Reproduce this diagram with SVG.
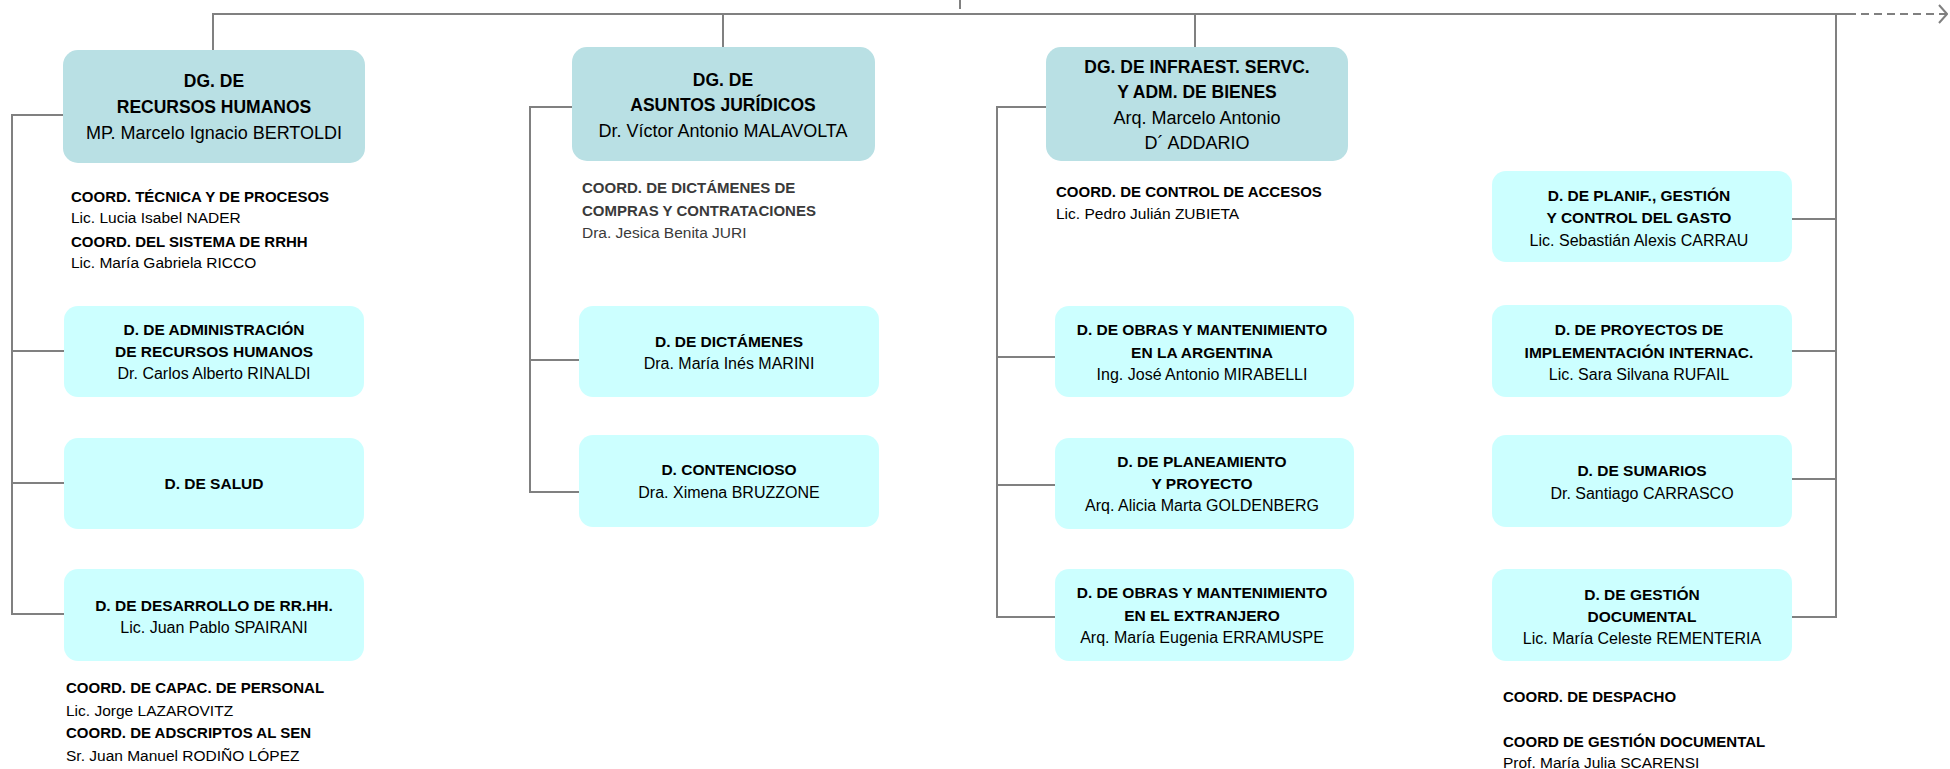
<svg xmlns="http://www.w3.org/2000/svg" width="1950" height="769" viewBox="0 0 1950 769">
<style>
text{font-family:"Liberation Sans",Arial,sans-serif;fill:#000}
.c{text-anchor:middle}
.h1{font-weight:bold;font-size:17.5px}
.n1{font-size:18px}
.h2{font-weight:bold;font-size:15.5px}
.n2{font-size:16px}
.hc{font-weight:bold;font-size:15px}
.nc{font-size:15.5px}
.g{fill:#3a3a3a}
.dg{fill:#B9E0E4}
.sb{fill:#CCFFFF}
.ln{stroke:#808080;stroke-width:2;fill:none}
.dash{stroke-dasharray:8 5}
</style>
<defs>
<marker id="arr" viewBox="0 0 10 20" refX="9" refY="10" markerWidth="10" markerHeight="20" markerUnits="userSpaceOnUse" orient="auto">
<polyline points="1,1 9,10 1,19" fill="none" stroke="#808080" stroke-width="2"/>
</marker>
</defs>
<rect width="1950" height="769" fill="#fff"/>
<g id="connectors">
<line class="ln" x1="960" y1="0" x2="960" y2="9"/>
<line class="ln" x1="212" y1="14" x2="1848" y2="14"/>
<line class="ln dash" x1="1848" y1="14" x2="1947" y2="14" marker-end="url(#arr)"/>
<line class="ln" x1="213" y1="14" x2="213" y2="50"/>
<line class="ln" x1="723" y1="14" x2="723" y2="47"/>
<line class="ln" x1="1195" y1="14" x2="1195" y2="47"/>
<path class="ln" d="M1836,14 V617 H1792"/>
<line class="ln" x1="1792" y1="219" x2="1836" y2="219"/>
<line class="ln" x1="1792" y1="351" x2="1836" y2="351"/>
<line class="ln" x1="1792" y1="479" x2="1836" y2="479"/>
<path class="ln" d="M63,115 H12 V614 H64"/>
<line class="ln" x1="12" y1="351" x2="64" y2="351"/>
<line class="ln" x1="12" y1="483" x2="64" y2="483"/>
<path class="ln" d="M572,107 H530 V492 H579"/>
<line class="ln" x1="530" y1="360" x2="579" y2="360"/>
<path class="ln" d="M1046,107 H997 V617 H1055"/>
<line class="ln" x1="997" y1="357" x2="1055" y2="357"/>
<line class="ln" x1="997" y1="485" x2="1055" y2="485"/>
</g>
<g id="dg-rrhh">
<rect class="dg" x="63" y="50" width="302" height="113" rx="15"/>
<text class="h1 c" x="214" y="87">DG. DE</text>
<text class="h1 c" x="214" y="113">RECURSOS HUMANOS</text>
<text class="n1 c" x="214" y="139">MP. Marcelo Ignacio BERTOLDI</text>
</g>
<g id="coord-rrhh">
<text class="hc" x="71" y="202">COORD. TÉCNICA Y DE PROCESOS</text>
<text class="nc" x="71" y="223">Lic. Lucia Isabel NADER</text>
<text class="hc" x="71" y="247">COORD. DEL SISTEMA DE RRHH</text>
<text class="nc" x="71" y="268">Lic. María Gabriela RICCO</text>
</g>
<g id="d-admin-rrhh">
<rect class="sb" x="64" y="306" width="300" height="91" rx="14"/>
<text class="h2 c" x="214" y="335">D. DE ADMINISTRACIÓN</text>
<text class="h2 c" x="214" y="357">DE RECURSOS HUMANOS</text>
<text class="n2 c" x="214" y="379">Dr. Carlos Alberto RINALDI</text>
</g>
<g id="d-salud">
<rect class="sb" x="64" y="438" width="300" height="91" rx="14"/>
<text class="h2 c" x="214" y="489">D. DE SALUD</text>
</g>
<g id="d-desarrollo">
<rect class="sb" x="64" y="569" width="300" height="92" rx="14"/>
<text class="h2 c" x="214" y="611">D. DE DESARROLLO DE RR.HH.</text>
<text class="n2 c" x="214" y="633">Lic. Juan Pablo SPAIRANI</text>
</g>
<g id="coord-desarrollo">
<text class="hc" x="66" y="693">COORD. DE CAPAC. DE PERSONAL</text>
<text class="nc" x="66" y="716">Lic. Jorge LAZAROVITZ</text>
<text class="hc" x="66" y="738">COORD. DE ADSCRIPTOS AL SEN</text>
<text class="nc" x="66" y="761">Sr. Juan Manuel RODIÑO LÓPEZ</text>
</g>
<g id="dg-juridicos">
<rect class="dg" x="572" y="47" width="303" height="114" rx="15"/>
<text class="h1 c" x="723" y="86">DG. DE</text>
<text class="h1 c" x="723" y="111">ASUNTOS JURÍDICOS</text>
<text class="n1 c" x="723" y="137">Dr. Víctor Antonio MALAVOLTA</text>
</g>
<g id="coord-juridicos">
<text class="hc g" x="582" y="193">COORD. DE DICTÁMENES DE</text>
<text class="hc g" x="582" y="216">COMPRAS Y CONTRATACIONES</text>
<text class="nc g" x="582" y="238">Dra. Jesica Benita JURI</text>
</g>
<g id="d-dictamenes">
<rect class="sb" x="579" y="306" width="300" height="91" rx="14"/>
<text class="h2 c" x="729" y="347">D. DE DICTÁMENES</text>
<text class="n2 c" x="729" y="369">Dra. María Inés MARINI</text>
</g>
<g id="d-contencioso">
<rect class="sb" x="579" y="435" width="300" height="92" rx="14"/>
<text class="h2 c" x="729" y="475">D. CONTENCIOSO</text>
<text class="n2 c" x="729" y="498">Dra. Ximena BRUZZONE</text>
</g>
<g id="dg-infraest">
<rect class="dg" x="1046" y="47" width="302" height="114" rx="15"/>
<text class="h1 c" x="1197" y="73">DG. DE INFRAEST. SERVC.</text>
<text class="h1 c" x="1197" y="98">Y ADM. DE BIENES</text>
<text class="n1 c" x="1197" y="124">Arq. Marcelo Antonio</text>
<text class="n1 c" x="1197" y="149">D´ ADDARIO</text>
</g>
<g id="coord-infraest">
<text class="hc" x="1056" y="197">COORD. DE CONTROL DE ACCESOS</text>
<text class="nc" x="1056" y="219">Lic. Pedro Julián ZUBIETA</text>
</g>
<g id="d-obras-arg">
<rect class="sb" x="1055" y="306" width="299" height="91" rx="14"/>
<text class="h2 c" x="1202" y="335">D. DE OBRAS Y MANTENIMIENTO</text>
<text class="h2 c" x="1202" y="358">EN LA ARGENTINA</text>
<text class="n2 c" x="1202" y="380">Ing. José Antonio MIRABELLI</text>
</g>
<g id="d-planeamiento">
<rect class="sb" x="1055" y="438" width="299" height="91" rx="14"/>
<text class="h2 c" x="1202" y="467">D. DE PLANEAMIENTO</text>
<text class="h2 c" x="1202" y="489">Y PROYECTO</text>
<text class="n2 c" x="1202" y="511">Arq. Alicia Marta GOLDENBERG</text>
</g>
<g id="d-obras-ext">
<rect class="sb" x="1055" y="569" width="299" height="92" rx="14"/>
<text class="h2 c" x="1202" y="598">D. DE OBRAS Y MANTENIMIENTO</text>
<text class="h2 c" x="1202" y="621">EN EL EXTRANJERO</text>
<text class="n2 c" x="1202" y="643">Arq. María Eugenia ERRAMUSPE</text>
</g>
<g id="d-planif">
<rect class="sb" x="1492" y="171" width="300" height="91" rx="14"/>
<text class="h2 c" x="1639" y="201">D. DE PLANIF., GESTIÓN</text>
<text class="h2 c" x="1639" y="223">Y CONTROL DEL GASTO</text>
<text class="n2 c" x="1639" y="246">Lic. Sebastián Alexis CARRAU</text>
</g>
<g id="d-proyectos">
<rect class="sb" x="1492" y="305" width="300" height="92" rx="14"/>
<text class="h2 c" x="1639" y="335">D. DE PROYECTOS DE</text>
<text class="h2 c" x="1639" y="358">IMPLEMENTACIÓN INTERNAC.</text>
<text class="n2 c" x="1639" y="380">Lic. Sara Silvana RUFAIL</text>
</g>
<g id="d-sumarios">
<rect class="sb" x="1492" y="435" width="300" height="92" rx="14"/>
<text class="h2 c" x="1642" y="476">D. DE SUMARIOS</text>
<text class="n2 c" x="1642" y="499">Dr. Santiago CARRASCO</text>
</g>
<g id="d-gestion-doc">
<rect class="sb" x="1492" y="569" width="300" height="92" rx="14"/>
<text class="h2 c" x="1642" y="600">D. DE GESTIÓN</text>
<text class="h2 c" x="1642" y="622">DOCUMENTAL</text>
<text class="n2 c" x="1642" y="644">Lic. María Celeste REMENTERIA</text>
</g>
<g id="coord-gestion-doc">
<text class="hc" x="1503" y="702">COORD. DE DESPACHO</text>
<text class="hc" x="1503" y="747">COORD DE GESTIÓN DOCUMENTAL</text>
<text class="nc" x="1503" y="768">Prof. María Julia SCARENSI</text>
</g>
</svg>
